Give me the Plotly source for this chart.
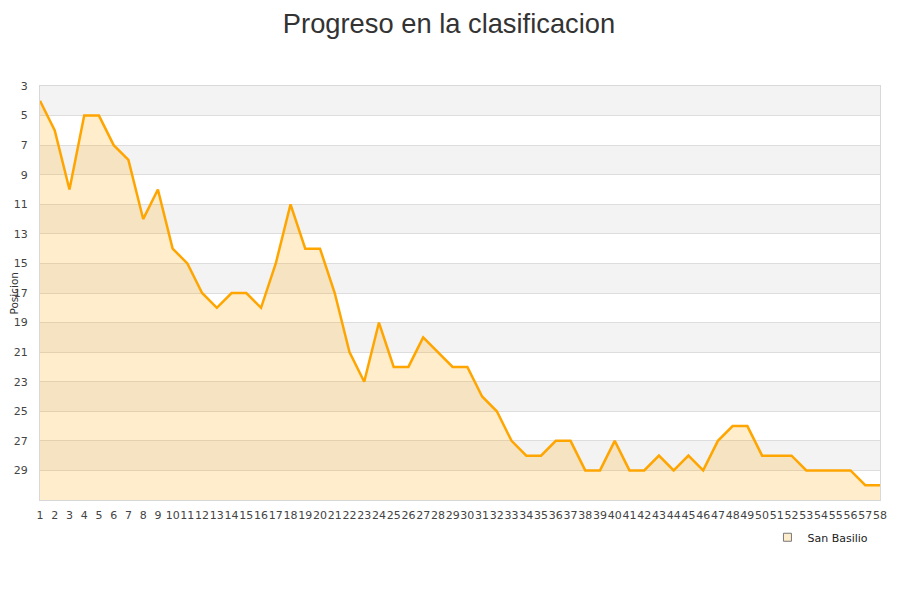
import plotly.graph_objects as go

# jornadas y posicion en cada una
jornadas = list(range(1, 59))
posiciones = [
    4, 6, 10, 5, 5, 7, 8, 12, 10, 14,
    15, 17, 18, 17, 17, 18, 15, 11, 14, 14,
    17, 21, 23, 19, 22, 22, 20, 21, 22, 22,
    24, 25, 27, 28, 28, 27, 27, 29, 29, 27,
    29, 29, 28, 29, 28, 29, 27, 26, 26, 28,
    28, 28, 29, 29, 29, 29, 30, 30,
]
equipo = "San Basilio"
y_ticks = list(range(3, 30, 2))
y_min, y_max = 3, 31

fig = go.Figure()

# linea base abajo del todo (eje invertido) para rellenar hasta ella
fig.add_trace(go.Scatter(
    x=jornadas, y=[y_max] * len(jornadas), mode="lines",
    line=dict(width=0), showlegend=False, hoverinfo="skip"
))
fig.add_trace(go.Scatter(
    x=jornadas, y=posiciones, mode="lines", name=equipo,
    line=dict(color="#FFA500", width=2.5),
    fill="tonexty", fillcolor="rgba(255,165,0,0.2)",
    showlegend=False,
    hovertemplate="Jornada %{x}<br>Posicion %{y}<extra></extra>"
))
# solo para la leyenda
fig.add_trace(go.Scatter(
    x=[None], y=[None], mode="markers", name=equipo,
    marker=dict(symbol="square", size=8, color="#FEEDCC",
                line=dict(color="#777777", width=1))
))

# bandas grises alternas
shapes = []
for lo in range(3, 29, 4):
    shapes.append(dict(
        type="rect", xref="paper", yref="y", x0=0, x1=1, y0=lo, y1=lo + 2,
        fillcolor="#F3F3F3", line=dict(width=0), layer="below"
    ))

fig.update_layout(
    width=900, height=600,
    margin=dict(l=32, r=28, t=78, b=108, autoexpand=False),
    paper_bgcolor="white", plot_bgcolor="white",
    font=dict(family="DejaVu Sans", size=11, color="#444444"),
    title=dict(
        text="Progreso en la clasificacion",
        font=dict(family="Liberation Sans", size=27.3, color="#333333"),
        x=0.49, xanchor="center", y=0.99, yanchor="top"
    ),
    shapes=shapes,
    annotations=[dict(
        text="Posicion", textangle=-90, showarrow=False,
        xref="paper", yref="paper", x=-0.0315, y=0.5,
        xanchor="center", yanchor="middle",
        font=dict(size=10.5, color="#333333")
    )],
    showlegend=True,
    legend=dict(
        x=0.866, xanchor="left", y=-0.09, yanchor="middle",
        font=dict(size=11, color="#222222"), bgcolor="rgba(0,0,0,0)",
        itemwidth=30
    ),
)

fig.update_xaxes(
    range=[1, 58], tickmode="linear", tick0=1, dtick=1, tickangle=0,
    showgrid=False, zeroline=False, automargin=False,
    showline=True, linecolor="#D8D8D8", linewidth=1, mirror=True,
    ticks="", ticklabelstandoff=5, tickfont=dict(size=11, color="#444444")
)
fig.update_yaxes(
    range=[y_max, y_min], tickmode="array", tickvals=y_ticks,
    showgrid=True, gridcolor="#DDDDDD", zeroline=False, automargin=False,
    showline=True, linecolor="#D8D8D8", linewidth=1, mirror=True,
    ticks="", ticklabelstandoff=9, tickfont=dict(size=11, color="#444444")
)

fig.write_html("out.html")
